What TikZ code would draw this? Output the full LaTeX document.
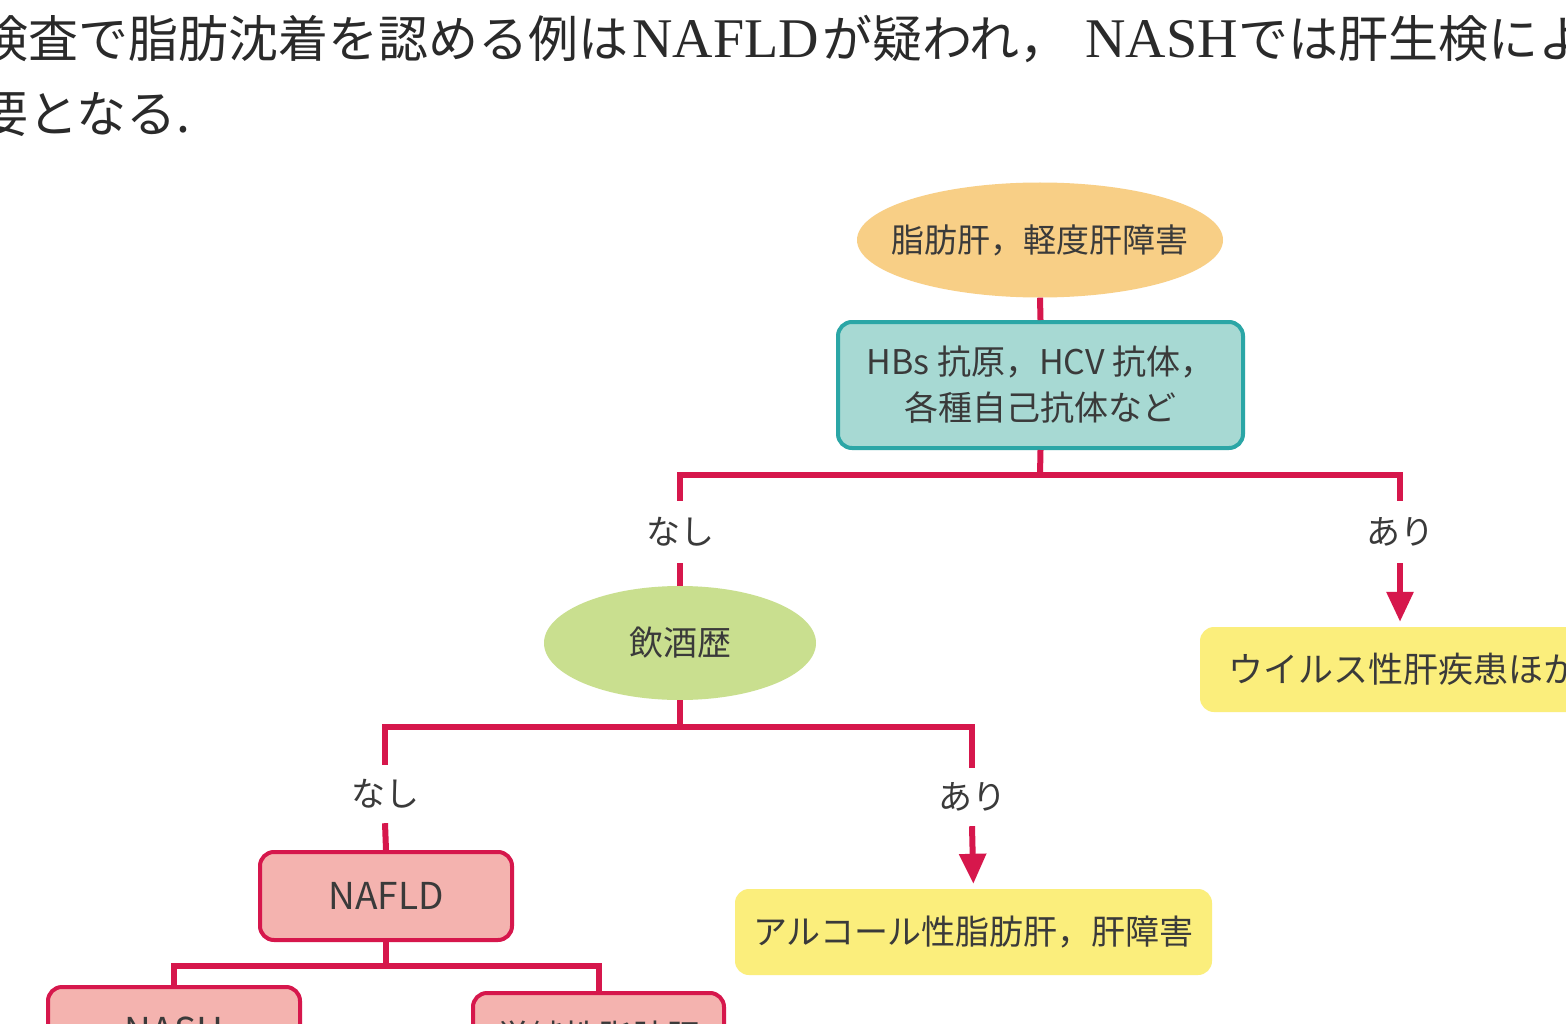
\documentclass[tikz,border=0pt]{standalone}
\usepackage{fontspec}
\setmainfont{Noto Sans CJK JP}
\newfontfamily\serlat{Liberation Serif}
\usetikzlibrary{shapes.geometric,arrows.meta}
\definecolor{conncol}{HTML}{D6174C}
\definecolor{textcol}{HTML}{3A3A3A}
\definecolor{paracol}{HTML}{2A2A2A}
\definecolor{orangefill}{HTML}{F8CF86}
\definecolor{tealfill}{HTML}{A7D9D3}
\definecolor{tealdraw}{HTML}{2BA6A6}
\definecolor{greenfill}{HTML}{C9DF8F}
\definecolor{yellowfill}{HTML}{FBEE7C}
\definecolor{pinkfill}{HTML}{F4B3AF}
\begin{document}
\begin{tikzpicture}[x=1pt,y=-1pt,
  every node/.style={text=textcol, font=\fontsize{34}{46}\selectfont},
  conn/.style={draw=conncol, line width=6pt},
  arr/.style={conn, -{Triangle[width=26pt,length=30pt]}, shorten >=5pt},
  ellnode/.style={ellipse, inner sep=0pt, draw=none},
  tealbox/.style={rectangle, rounded corners=14pt, fill=tealfill, draw=tealdraw, line width=4pt, align=center, inner sep=0pt},
  yellowbox/.style={rectangle, rounded corners=14pt, fill=yellowfill, draw=none, inner sep=0pt},
  pinkbox/.style={rectangle, rounded corners=14pt, fill=pinkfill, draw=conncol, line width=4pt, inner sep=0pt},
  lbl/.style={inner sep=0pt, minimum height=62pt, minimum width=80pt},
  paraj/.style={anchor=base west, inner sep=0pt, text=paracol, font=\fontsize{50}{60}\selectfont},
  paral/.style={anchor=base west, inner sep=0pt, text=paracol, font=\serlat\fontsize{56}{60}\selectfont}
]
\useasboundingbox (0,0) rectangle (1566,1024);
\fill[white] (0,0) rectangle (1566,1024);
\clip (0,0) rectangle (1566,1024);

% paragraph text
\node[paraj] (p1) at (-22,58) {検査で脂肪沈着を認める例は};
\node[paral] (p2) at (632,58) {NAFLD};
\node[paraj] (p3) at (822,58) {が疑われ，};
\node[paral] (p4) at (1085,58) {NASH};
\node[paraj] (p5) at (1238,58) {では肝生検によ};
\node[paraj] (p6) at (-22,133) {要となる.};

% nodes
\node[ellnode, fill=orangefill, minimum width=366pt, minimum height=115pt] (fat) at (1040,240) {};
\node[inner sep=0pt, font=\fontsize{33}{46}\selectfont] (fattext) at (1040,240) {脂肪肝，軽度肝障害};
\node[tealbox, minimum width=405pt, minimum height=126pt] (hb) at (1040.5,385) {HBs 抗原，HCV 抗体，\\各種自己抗体など};
\node[lbl] (n1) at (680,532) {なし};
\node[lbl] (a1) at (1400,532) {あり};
\node[ellnode, fill=greenfill, minimum width=272pt, minimum height=114pt] (alc) at (680,643) {飲酒歴};
\node[yellowbox, minimum width=400pt, minimum height=85pt, text width=344pt, align=left, font=\fontsize{35}{46}\selectfont] (virus) at (1400,669.5) {ウイルス性肝疾患ほか};
\node[lbl, minimum height=58pt] (n2) at (385,794) {なし};
\node[lbl, minimum height=58pt] (a2) at (972,797) {あり};
\node[yellowbox, minimum width=477pt, minimum height=86pt] (alcd) at (973.5,932) {アルコール性脂肪肝，肝障害};
\node[pinkbox, minimum width=252pt, minimum height=88pt, font=\fontsize{37}{46}\selectfont] (nafld) at (386,896) {NAFLD};
\node[pinkbox, minimum width=252pt, minimum height=88pt, font=\fontsize{37}{46}\selectfont] (nash) at (174,1031) {NASH};
\node[pinkbox, minimum width=251pt, minimum height=88pt] (simple) at (598.5,1037) {単純性脂肪肝};

% junctions
\coordinate (j1) at (1040,475);
\coordinate (j2) at (680,727);
\coordinate (j3) at (386,966);

% connectors
\draw[conn] (fat.south) -- (hb.north);
\draw[conn] (hb.south) -- (j1);
\draw[conn] (n1.north) |- (j1) -| (a1.north);
\draw[conn] (n1.south) -- (alc.north);
\draw[arr] (a1.south) -- (virus.north);
\draw[conn] (alc.south) -- (j2);
\draw[conn] (n2.north) |- (j2) -| (a2.north);
\draw[conn] (n2.south) -- (nafld.north);
\draw[arr] (a2.south) -- (alcd.north);
\draw[conn] (nafld.south) -- (j3);
\draw[conn] (nash.north) |- (j3) -| (simple.north);
\end{tikzpicture}
\end{document}
